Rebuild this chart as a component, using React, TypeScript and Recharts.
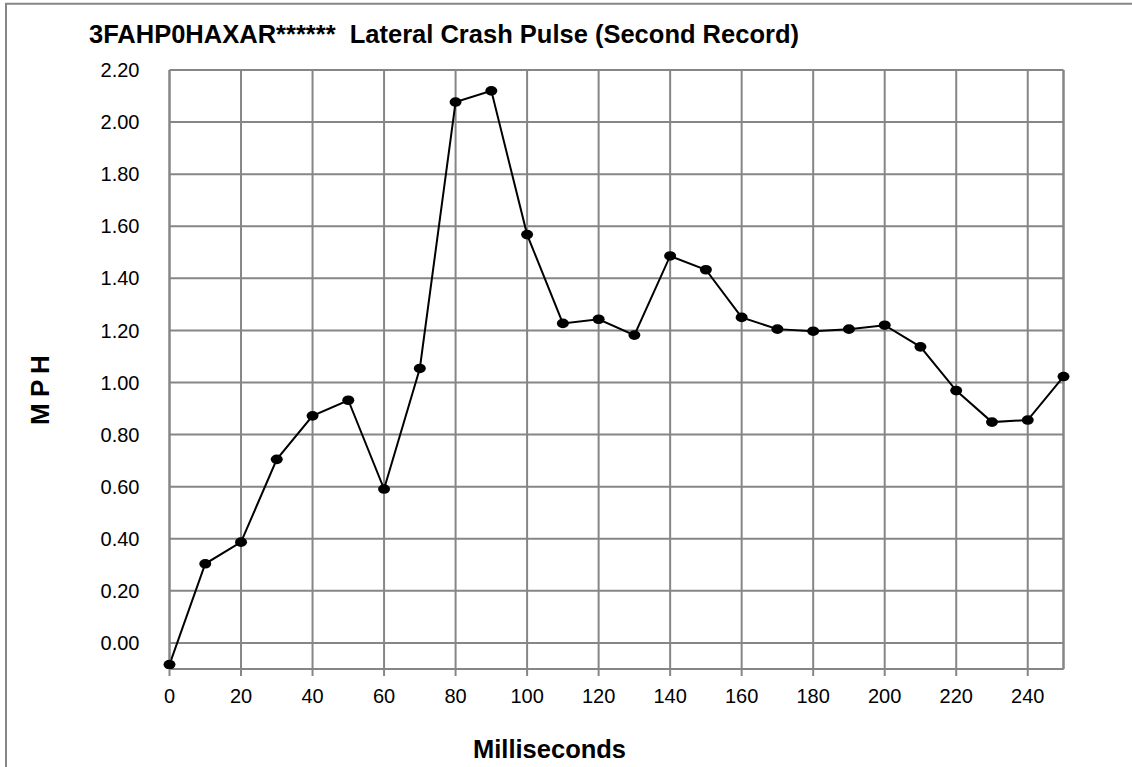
import React from "react";
import {
  LineChart,
  Line,
  XAxis,
  YAxis,
  CartesianGrid,
  ReferenceLine,
} from "recharts";

// time in ms and lateral delta-V in MPH
const times = [
  0, 10, 20, 30, 40, 50, 60, 70, 80, 90, 100, 110, 120, 130, 140, 150, 160,
  170, 180, 190, 200, 210, 220, 230, 240, 250,
];
const mph = [
  -0.083, 0.304, 0.387, 0.705, 0.872, 0.932, 0.591, 1.054, 2.077, 2.12, 1.568,
  1.227, 1.243, 1.182, 1.486, 1.433, 1.25, 1.205, 1.197, 1.205, 1.22, 1.137,
  0.969, 0.848, 0.856, 1.023,
];
const xTicks = [0, 20, 40, 60, 80, 100, 120, 140, 160, 180, 200, 220, 240];
const yTicks = [0, 0.2, 0.4, 0.6, 0.8, 1.0, 1.2, 1.4, 1.6, 1.8, 2.0, 2.2];

const FONT = "'Liberation Sans', Arial, sans-serif";
const GRID = "#868686";

const data = times.map((t, i) => ({ t, v: mph[i] }));

// Excel style marker: slightly flattened filled ellipse
const Marker = (props: any) => {
  const { cx, cy } = props;
  if (cx == null || cy == null) return null;
  return <ellipse cx={cx} cy={cy} rx={6} ry={4.8} fill="#000" />;
};

const App = () => {
  return (
    <div
      style={{
        position: "absolute",
        left: 0,
        top: 0,
        width: 1132,
        height: 767,
        background: "#fff",
        fontFamily: FONT,
        overflow: "hidden",
      }}
    >
      <LineChart
        width={1132}
        height={767}
        data={data}
        margin={{ top: 70, right: 68.5, left: 109.5, bottom: 68 }}
      >
        <CartesianGrid stroke={GRID} strokeWidth={2} />
        <XAxis
          dataKey="t"
          type="number"
          domain={[0, 250]}
          ticks={xTicks}
          interval={0}
          height={30}
          tickSize={7}
          tickMargin={13}
          stroke={GRID}
          strokeWidth={2}
          tick={{ fill: "#000", fontSize: 20, fontFamily: FONT }}
        />
        <YAxis
          type="number"
          domain={[-0.1, 2.2]}
          ticks={yTicks}
          interval={0}
          allowDataOverflow
          width={60}
          tickLine={false}
          tickSize={0}
          tickMargin={30}
          stroke={GRID}
          strokeWidth={2}
          tickFormatter={(v: number) => v.toFixed(2)}
          tick={{ fill: "#000", fontSize: 20, fontFamily: FONT }}
        />
        <ReferenceLine x={250} stroke={GRID} strokeWidth={2} />
        <Line
          type="linear"
          dataKey="v"
          stroke="#000"
          strokeWidth={2}
          dot={<Marker />}
          activeDot={false}
          isAnimationActive={false}
        />
      </LineChart>
      <svg
        width={1132}
        height={767}
        style={{ position: "absolute", left: 0, top: 0, pointerEvents: "none" }}
      >
        <line x1={5} y1={3.7} x2={1132} y2={3.7} stroke={GRID} strokeWidth={2} />
        <line x1={6} y1={3} x2={6} y2={767} stroke={GRID} strokeWidth={2} />
        <text
          x={89}
          y={43.3}
          fontFamily={FONT}
          fontWeight="bold"
          fontSize={25.5}
          fill="#000"
          style={{ whiteSpace: "pre" }}
        >
          {"3FAHP0HAXAR******  Lateral Crash Pulse (Second Record)"}
        </text>
        <text
          x={473}
          y={758.3}
          fontFamily={FONT}
          fontWeight="bold"
          fontSize={25.5}
          fill="#000"
        >
          Milliseconds
        </text>
        <text
          transform="translate(49, 390) rotate(-90)"
          textAnchor="middle"
          fontFamily={FONT}
          fontWeight="bold"
          fontSize={26}
          fill="#000"
          wordSpacing={-1}
        >
          M P H
        </text>
      </svg>
    </div>
  );
};

export default App;
